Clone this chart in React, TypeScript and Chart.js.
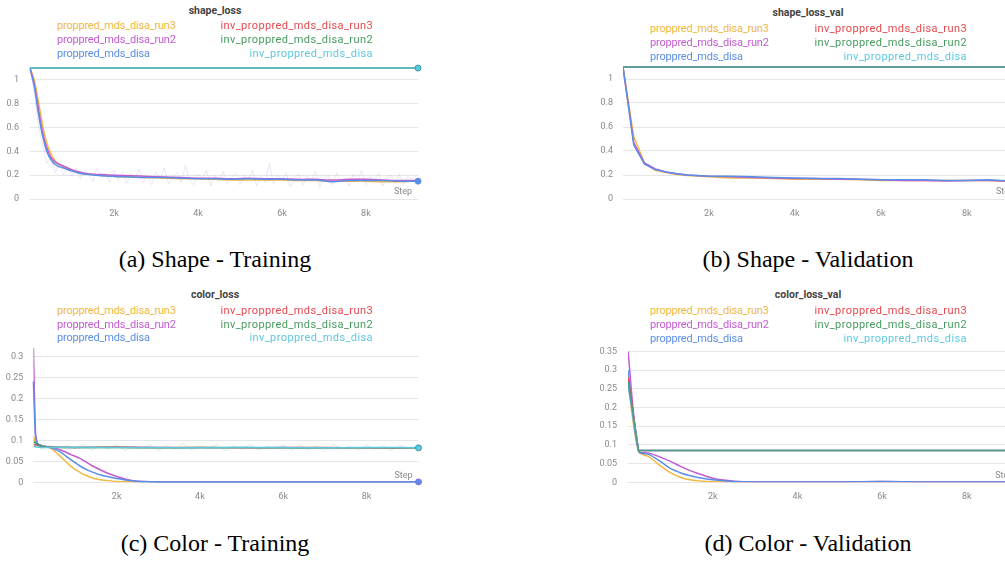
import { useEffect, useRef } from "react";
import { Chart, registerables } from "chart.js";
Chart.register(...registerables);

// ---------- series names ----------
const NAMES_LEFT = ["proppred_mds_disa_run3", "proppred_mds_disa_run2", "proppred_mds_disa"];
const NAMES_RIGHT = ["inv_proppred_mds_disa_run3", "inv_proppred_mds_disa_run2", "inv_proppred_mds_disa"];

// ---------- shape_loss (training) ----------
const ST_STEPS = [0, 100, 200, 300, 400, 500, 600, 700, 800, 1000, 1200, 1400, 1700, 2000, 2400, 2800, 3200, 3600, 4000, 4400, 4800, 5200, 5600, 6000, 6400, 6800, 7200, 7600, 8000, 8400, 8800, 9240];
const ST_BASE = [1.1, 0.95, 0.72, 0.53, 0.4, 0.33, 0.29, 0.27, 0.26, 0.235, 0.215, 0.205, 0.195, 0.19, 0.185, 0.18, 0.18, 0.175, 0.17, 0.17, 0.165, 0.17, 0.165, 0.165, 0.16, 0.16, 0.145, 0.155, 0.155, 0.155, 0.15, 0.15];
const ST_RUN3 = [1.1, 1.0, 0.82, 0.62, 0.47, 0.38, 0.32, 0.29, 0.275, 0.245, 0.22, 0.21, 0.2, 0.19, 0.185, 0.18, 0.175, 0.17, 0.17, 0.165, 0.16, 0.16, 0.16, 0.16, 0.155, 0.155, 0.15, 0.15, 0.15, 0.145, 0.145, 0.15];
const ST_RUN2 = [1.1, 0.97, 0.76, 0.56, 0.43, 0.35, 0.31, 0.29, 0.275, 0.245, 0.225, 0.21, 0.205, 0.2, 0.195, 0.19, 0.185, 0.18, 0.175, 0.175, 0.17, 0.175, 0.17, 0.17, 0.165, 0.165, 0.16, 0.165, 0.165, 0.16, 0.155, 0.155];
const ST_INV_STEPS = [0, 9240];
const ST_INV_RUN3 = [1.1, 1.1];
const ST_INV_RUN2 = [1.1, 1.1];
const ST_INV = [1.1, 1.1];
const ST_RAW_STEPS = [
  0, 100, 200, 300, 400, 500, 600, 700, 800, 900,
  1000, 1100, 1200, 1300, 1400, 1500, 1600, 1700, 1800, 1900,
  2000, 2100, 2200, 2300, 2400, 2500, 2600, 2700, 2800, 2900,
  3000, 3100, 3200, 3300, 3400, 3500, 3600, 3700, 3800, 3900,
  4000, 4100, 4200, 4300, 4400, 4500, 4600, 4700, 4800, 4900,
  5000, 5100, 5200, 5300, 5400, 5500, 5600, 5700, 5800, 5900,
  6000, 6100, 6200, 6300, 6400, 6500, 6600, 6700, 6800, 6900,
  7000, 7100, 7200, 7300, 7400, 7500, 7600, 7700, 7800, 7900,
  8000, 8100, 8200, 8300, 8400, 8500, 8600, 8700, 8800, 8900,
  9000, 9100, 9200,
];
const ST_RAW = [
  1.1, 0.9, 0.62, 0.45, 0.3, 0.36, 0.22, 0.3, 0.2, 0.27,
  0.19, 0.26, 0.17, 0.24, 0.21, 0.15, 0.26, 0.18, 0.22, 0.14,
  0.24, 0.16, 0.23, 0.13, 0.21, 0.18, 0.25, 0.14, 0.2, 0.12,
  0.23, 0.17, 0.26, 0.13, 0.19, 0.22, 0.14, 0.28, 0.16, 0.12,
  0.21, 0.17, 0.24, 0.11, 0.2, 0.15, 0.23, 0.13, 0.18, 0.22,
  0.12, 0.2, 0.16, 0.24, 0.11, 0.19, 0.14, 0.3, 0.13, 0.2,
  0.16, 0.22, 0.1, 0.18, 0.21, 0.12, 0.19, 0.15, 0.23, 0.1,
  0.17, 0.2, 0.12, 0.22, 0.14, 0.18, 0.11, 0.21, 0.15, 0.24,
  0.12, 0.19, 0.14, 0.22, 0.11, 0.18, 0.2, 0.13, 0.21, 0.12,
  0.19, 0.15, 0.2,
];

// ---------- shape_loss_val ----------
const SV_STEPS = [0, 250, 500, 750, 1000, 1250, 1500, 2000, 2500, 3000, 3500, 4000, 4500, 5000, 5500, 6000, 6500, 7000, 7500, 8000, 8500, 9000, 9240];
const SV_BASE = [1.1, 0.45, 0.29, 0.245, 0.225, 0.21, 0.2, 0.19, 0.19, 0.185, 0.18, 0.175, 0.17, 0.17, 0.165, 0.16, 0.16, 0.16, 0.155, 0.155, 0.16, 0.15, 0.15];
const SV_RUN3 = [1.1, 0.52, 0.3, 0.24, 0.22, 0.205, 0.195, 0.185, 0.175, 0.175, 0.17, 0.165, 0.165, 0.165, 0.16, 0.155, 0.155, 0.155, 0.155, 0.155, 0.155, 0.145, 0.145];
const SV_RUN2 = [1.1, 0.47, 0.3, 0.25, 0.225, 0.21, 0.2, 0.19, 0.185, 0.18, 0.175, 0.17, 0.17, 0.165, 0.165, 0.16, 0.155, 0.155, 0.15, 0.155, 0.155, 0.15, 0.15];
const SV_INV_STEPS = [0, 9240];
const SV_INV_RUN3 = [1.1, 1.1];
const SV_INV_RUN2 = [1.1, 1.1];
const SV_INV = [1.1, 1.1];

// ---------- color_loss (training) ----------
const CT_STEPS = [0, 50, 100, 200, 300, 400, 500, 600, 700, 800, 900, 1000, 1100, 1200, 1300, 1400, 1600, 1800, 2000, 2200, 2400, 2600, 2800, 3000, 3500, 4000, 5000, 6000, 7000, 8000, 9250];
const CT_RUN3 = [0.11, 0.095, 0.09, 0.087, 0.085, 0.082, 0.075, 0.066, 0.057, 0.047, 0.038, 0.031, 0.025, 0.019, 0.015, 0.011, 0.006, 0.004, 0.002, 0.0015, 0.001, 0.001, 0.001, 0.001, 0.001, 0.001, 0.001, 0.001, 0.001, 0.001, 0.001];
const CT_BASE = [0.24, 0.11, 0.092, 0.087, 0.085, 0.083, 0.079, 0.075, 0.069, 0.061, 0.054, 0.047, 0.04, 0.034, 0.029, 0.025, 0.018, 0.013, 0.009, 0.006, 0.003, 0.002, 0.0015, 0.001, 0.001, 0.001, 0.001, 0.001, 0.001, 0.001, 0.001];
const CT_RUN2 = [0.32, 0.12, 0.093, 0.087, 0.085, 0.084, 0.082, 0.079, 0.075, 0.071, 0.066, 0.062, 0.058, 0.052, 0.046, 0.04, 0.03, 0.021, 0.014, 0.008, 0.004, 0.002, 0.0015, 0.001, 0.001, 0.001, 0.001, 0.001, 0.001, 0.001, 0.001];
const CT_INV_STEPS = [0, 100, 200, 300, 1000, 2000, 3000, 4000, 5000, 6000, 7000, 8000, 9250];
const CT_INV_RUN3 = [0.09, 0.088, 0.085, 0.084, 0.083, 0.084, 0.083, 0.083, 0.082, 0.083, 0.083, 0.082, 0.082];
const CT_INV_RUN2 = [0.097, 0.09, 0.086, 0.084, 0.083, 0.083, 0.082, 0.083, 0.083, 0.082, 0.082, 0.082, 0.082];
const CT_INV = [0.085, 0.084, 0.083, 0.083, 0.083, 0.083, 0.083, 0.082, 0.083, 0.083, 0.082, 0.083, 0.082];
const CT_RAW_STEPS = [0, 200, 400, 600, 800, 1000, 1200, 1400, 1600, 1800, 2000, 2200, 2400, 2600, 2800, 3000, 3200, 3400, 3600, 3800, 4000, 4200, 4400, 4600, 4800, 5000, 5200, 5400, 5600, 5800, 6000, 6200, 6400, 6600, 6800, 7000, 7200, 7400, 7600, 7800, 8000, 8200, 8400, 8600, 8800, 9000, 9200];
const CT_RAW = [0.1, 0.078, 0.089, 0.076, 0.088, 0.08, 0.091, 0.077, 0.086, 0.079, 0.09, 0.075, 0.087, 0.081, 0.089, 0.076, 0.088, 0.078, 0.092, 0.077, 0.085, 0.08, 0.089, 0.075, 0.087, 0.079, 0.09, 0.077, 0.086, 0.081, 0.088, 0.076, 0.089, 0.078, 0.087, 0.075, 0.09, 0.08, 0.086, 0.077, 0.089, 0.079, 0.087, 0.076, 0.088, 0.08, 0.086];

// ---------- color_loss_val ----------
const CV_STEPS = [0, 250, 500, 750, 1000, 1250, 1500, 1750, 2000, 2250, 2500, 2750, 3000, 3500, 4000, 5000, 6000, 7000, 8000, 9000, 9240];
const CV_RUN3 = [0.27, 0.082, 0.068, 0.045, 0.026, 0.013, 0.006, 0.003, 0.0015, 0.001, 0.001, 0.001, 0.001, 0.001, 0.001, 0.001, 0.001, 0.001, 0.001, 0.001, 0.001];
const CV_BASE = [0.3, 0.083, 0.074, 0.057, 0.037, 0.025, 0.017, 0.011, 0.007, 0.004, 0.002, 0.0015, 0.001, 0.001, 0.001, 0.001, 0.002, 0.001, 0.001, 0.001, 0.001];
const CV_RUN2 = [0.35, 0.084, 0.078, 0.068, 0.056, 0.042, 0.03, 0.02, 0.011, 0.006, 0.003, 0.0015, 0.001, 0.001, 0.001, 0.001, 0.002, 0.001, 0.001, 0.001, 0.001];
const CV_INV_STEPS = [0, 250, 1000, 3000, 5000, 7000, 9240];
const CV_INV_RUN3 = [0.28, 0.085, 0.085, 0.085, 0.085, 0.085, 0.085];
const CV_INV_RUN2 = [0.27, 0.085, 0.085, 0.085, 0.085, 0.085, 0.085];
const CV_INV = [0.26, 0.085, 0.085, 0.085, 0.085, 0.085, 0.085];

// ---------- ticks ----------
const X_TICKS = [2000, 4000, 6000, 8000];
const Y_TICKS_SHAPE = [0, 0.2, 0.4, 0.6, 0.8, 1];
const Y_TICKS_CT = [0, 0.05, 0.1, 0.15, 0.2, 0.25, 0.3];
const Y_TICKS_CV = [0, 0.05, 0.1, 0.15, 0.2, 0.25, 0.3, 0.35];

// ---------- styles ----------
const COL = {
  run3: "#f0b940",
  run2: "#c25bd1",
  base: "#5b8ee6",
  invRun3: "#e5484d",
  invRun2: "#479a5f",
  inv: "#5bc8e0",
};
const LEFT_COLORS = [COL.run3, COL.run2, COL.base];
const RIGHT_COLORS = [COL.invRun3, COL.invRun2, COL.inv];

function pts(steps: number[], vals: number[]) {
  return steps.map((s, i) => ({ x: s, y: vals[i] }));
}

function line(label: string, steps: number[], vals: number[], color: string, opts: any = {}) {
  const n = steps.length;
  const endDot = opts.endDot;
  return {
    label,
    data: pts(steps, vals),
    borderColor: color,
    backgroundColor: color,
    borderWidth: opts.width ?? 1.5,
    tension: opts.tension ?? 0.25,
    pointRadius: (ctx: any) => (endDot && ctx.dataIndex === n - 1 ? 3 : 0),
    pointBorderWidth: 1,
    pointBorderColor: opts.dotBorder ?? color,
    pointHoverRadius: 0,
    clip: endDot ? 6 : undefined,
    fill: false,
  };
}

type Spec = {
  title: string;
  titleX: number;
  titleY: number;
  legLeftX: number;
  legRightX: number;
  legRows: number[];
  canvas: { left: number; top: number; width: number; height: number };
  area: { left: number; right: number; top: number; bottom: number };
  xMax: number;
  yMax: number;
  yTicks: number[];
  yPad: number;
  datasets: any[];
  caption: string;
  capX: number;
  capY: number;
};

const stepLabelPlugin = {
  id: "stepLabel",
  afterDraw(chart: any) {
    const { ctx, chartArea } = chart;
    ctx.save();
    ctx.font = "9px Roboto, 'Noto Sans', sans-serif";
    ctx.fillStyle = "#8a8a8a";
    ctx.textAlign = "right";
    ctx.textBaseline = "middle";
    ctx.fillText("Step", chartArea.right - 6, chartArea.bottom - 7);
    ctx.restore();
  },
};

function Panel({ spec }: { spec: Spec }) {
  const ref = useRef<HTMLCanvasElement | null>(null);
  useEffect(() => {
    const c = spec.canvas;
    const a = spec.area;
    const yW = a.left - c.left;
    const xH = c.top + c.height - a.bottom;
    const chart = new Chart(ref.current as HTMLCanvasElement, {
      type: "line",
      data: { datasets: spec.datasets },
      options: {
        animation: false,
        responsive: false,
        maintainAspectRatio: false,
        events: [],
        layout: {
          padding: { top: a.top - c.top, left: 0, right: c.left + c.width - a.right, bottom: 0 },
        },
        plugins: { legend: { display: false }, title: { display: false }, tooltip: { enabled: false } },
        scales: {
          x: {
            type: "linear",
            min: 0,
            max: spec.xMax,
            border: { display: false },
            grid: { display: false, drawTicks: false },
            afterBuildTicks: (s: any) => {
              s.ticks = X_TICKS.map((v) => ({ value: v }));
            },
            afterFit: (s: any) => {
              s.height = xH;
            },
            ticks: {
              padding: 9,
              color: "#8a8a8a",
              font: { size: 9, family: "Roboto, 'Noto Sans', sans-serif" },
              maxRotation: 0,
              autoSkip: false,
              callback: (v: any) => `${Number(v) / 1000}k`,
            },
          },
          y: {
            type: "linear",
            min: 0,
            max: spec.yMax,
            border: { display: false },
            grid: { color: "#e6e6e6", lineWidth: 1, drawTicks: false },
            afterBuildTicks: (s: any) => {
              s.ticks = spec.yTicks.map((v) => ({ value: v }));
            },
            afterFit: (s: any) => {
              s.width = yW;
            },
            ticks: {
              padding: spec.yPad,
              color: "#8a8a8a",
              font: { size: 9, family: "Roboto, 'Noto Sans', sans-serif" },
              autoSkip: false,
              callback: (v: any) => `${parseFloat(Number(v).toFixed(2))}`,
            },
          },
        },
      },
      plugins: [stepLabelPlugin],
    } as any);
    return () => chart.destroy();
  }, [spec]);

  const c = spec.canvas;
  const legFont = "Roboto, 'Noto Sans', sans-serif";
  return (
    <>
      <canvas
        ref={ref}
        width={c.width}
        height={c.height}
        style={{ position: "absolute", left: c.left, top: c.top, width: c.width, height: c.height }}
      />
      <div
        style={{
          position: "absolute",
          left: spec.titleX,
          top: spec.titleY,
          transform: "translate(-50%, -50%)",
          font: `bold 10.5px ${legFont}`,
          color: "#444",
          whiteSpace: "nowrap",
          lineHeight: 1,
        }}
      >
        {spec.title}
      </div>
      {NAMES_LEFT.map((n, i) => (
        <div
          key={"l" + i}
          style={{
            position: "absolute",
            left: spec.legLeftX,
            top: spec.legRows[i],
            transform: "translateY(-50%)",
            font: `11px ${legFont}`,
            letterSpacing: "-0.2px",
            color: LEFT_COLORS[i],
            whiteSpace: "nowrap",
            lineHeight: 1,
          }}
        >
          {n}
        </div>
      ))}
      {NAMES_RIGHT.map((n, i) => (
        <div
          key={"r" + i}
          style={{
            position: "absolute",
            left: spec.legRightX,
            top: spec.legRows[i],
            transform: "translate(-100%, -50%)",
            font: `11px ${legFont}`,
            letterSpacing: "0.4px",
            color: RIGHT_COLORS[i],
            whiteSpace: "nowrap",
            lineHeight: 1,
          }}
        >
          {n}
        </div>
      ))}
      <div
        style={{
          position: "absolute",
          left: spec.capX,
          top: spec.capY,
          transform: "translate(-50%, -50%)",
          font: "24px 'Liberation Serif', 'Times New Roman', serif",
          color: "#000",
          whiteSpace: "nowrap",
          lineHeight: 1,
        }}
      >
        {spec.caption}
      </div>
    </>
  );
}

const SPECS: Spec[] = [
  {
    title: "shape_loss",
    titleX: 215,
    titleY: 11,
    legLeftX: 57,
    legRightX: 373,
    legRows: [25, 39, 52.5],
    canvas: { left: 0, top: 40, width: 430, height: 200 },
    area: { left: 30, right: 418, top: 65.7, bottom: 199 },
    xMax: 9240,
    yMax: 1.12,
    yTicks: Y_TICKS_SHAPE,
    yPad: 11,
    datasets: [
      line(NAMES_RIGHT[2], ST_INV_STEPS, ST_INV, COL.inv, { endDot: true, dotBorder: "#3f9aa0" }),
      line(NAMES_RIGHT[1], ST_INV_STEPS, ST_INV_RUN2, COL.invRun2),
      line(NAMES_RIGHT[0], ST_INV_STEPS, ST_INV_RUN3, COL.invRun3),
      line(NAMES_LEFT[2], ST_STEPS, ST_BASE, COL.base, { endDot: true }),
      line(NAMES_LEFT[1], ST_STEPS, ST_RUN2, COL.run2),
      line(NAMES_LEFT[0], ST_STEPS, ST_RUN3, COL.run3),
      line("raw", ST_RAW_STEPS, ST_RAW, "rgba(190,160,220,0.28)", { width: 1, tension: 0 }),
    ],
    caption: "(a) Shape - Training",
    capX: 215,
    capY: 259,
  },
  {
    title: "shape_loss_val",
    titleX: 808,
    titleY: 13,
    legLeftX: 650,
    legRightX: 967,
    legRows: [27.5, 41.5, 55.5],
    canvas: { left: 590, top: 40, width: 435, height: 200 },
    area: { left: 623, right: 1020, top: 64.6, bottom: 199 },
    xMax: 9240,
    yMax: 1.12,
    yTicks: Y_TICKS_SHAPE,
    yPad: 10,
    datasets: [
      line(NAMES_RIGHT[1], SV_INV_STEPS, SV_INV_RUN2, "#4f9a8c"),
      line(NAMES_RIGHT[2], SV_INV_STEPS, SV_INV, COL.inv),
      line(NAMES_RIGHT[0], SV_INV_STEPS, SV_INV_RUN3, COL.invRun3),
      line(NAMES_LEFT[2], SV_STEPS, SV_BASE, COL.base, { tension: 0 }),
      line(NAMES_LEFT[1], SV_STEPS, SV_RUN2, COL.run2, { tension: 0 }),
      line(NAMES_LEFT[0], SV_STEPS, SV_RUN3, COL.run3, { tension: 0 }),
    ],
    caption: "(b) Shape - Validation",
    capX: 808,
    capY: 259,
  },
  {
    title: "color_loss",
    titleX: 215,
    titleY: 294.5,
    legLeftX: 57,
    legRightX: 373,
    legRows: [310, 324, 337],
    canvas: { left: 0, top: 320, width: 430, height: 200 },
    area: { left: 33.4, right: 418.5, top: 345.8, bottom: 482.3 },
    xMax: 9250,
    yMax: 0.325,
    yTicks: Y_TICKS_CT,
    yPad: 10,
    datasets: [
      line(NAMES_RIGHT[2], CT_INV_STEPS, CT_INV, COL.inv, { endDot: true, dotBorder: "#3f9aa0" }),
      line(NAMES_RIGHT[1], CT_INV_STEPS, CT_INV_RUN2, COL.invRun2),
      line(NAMES_RIGHT[0], CT_INV_STEPS, CT_INV_RUN3, COL.invRun3),
      line(NAMES_LEFT[2], CT_STEPS, CT_BASE, COL.base, { endDot: true, dotBorder: "#8a6fd8" }),
      line(NAMES_LEFT[1], CT_STEPS, CT_RUN2, COL.run2),
      line(NAMES_LEFT[0], CT_STEPS, CT_RUN3, COL.run3),
      line("raw", CT_RAW_STEPS, CT_RAW, "rgba(150,190,160,0.3)", { width: 1, tension: 0 }),
    ],
    caption: "(c) Color - Training",
    capX: 215,
    capY: 543,
  },
  {
    title: "color_loss_val",
    titleX: 808,
    titleY: 295,
    legLeftX: 650,
    legRightX: 967,
    legRows: [309.5, 324, 338],
    canvas: { left: 590, top: 320, width: 435, height: 200 },
    area: { left: 628, right: 1019.3, top: 347.7, bottom: 482.3 },
    xMax: 9240,
    yMax: 0.36,
    yTicks: Y_TICKS_CV,
    yPad: 11,
    datasets: [
      line(NAMES_RIGHT[1], CV_INV_STEPS, CV_INV_RUN2, "#4f9a8c", { tension: 0 }),
      line(NAMES_RIGHT[2], CV_INV_STEPS, CV_INV, COL.inv, { tension: 0 }),
      line(NAMES_RIGHT[0], CV_INV_STEPS, CV_INV_RUN3, COL.invRun3, { tension: 0 }),
      line(NAMES_LEFT[2], CV_STEPS, CV_BASE, COL.base, { tension: 0.3 }),
      line(NAMES_LEFT[1], CV_STEPS, CV_RUN2, COL.run2, { tension: 0.3 }),
      line(NAMES_LEFT[0], CV_STEPS, CV_RUN3, COL.run3, { tension: 0.3 }),
    ],
    caption: "(d) Color - Validation",
    capX: 808,
    capY: 543,
  },
];

export default function App() {
  return (
    <div
      style={{
        position: "fixed",
        left: 0,
        top: 0,
        width: 1005,
        height: 561,
        overflow: "hidden",
        background: "#fff",
      }}
    >
      {SPECS.map((s, i) => (
        <Panel key={i} spec={s} />
      ))}
    </div>
  );
}
